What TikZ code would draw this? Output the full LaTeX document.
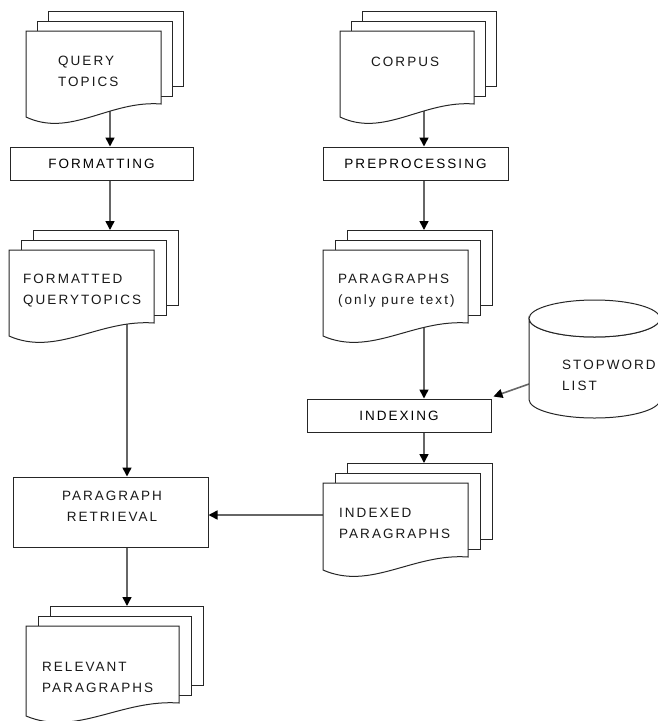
\documentclass[tikz,border=0pt]{standalone}
\usepackage{fontspec}
\newfontfamily\lblfont{Liberation Sans}[LetterSpace=15]
\usetikzlibrary{arrows.meta}
\pgfdeclarelayer{bg}
\pgfsetlayers{bg,main}
\tikzset{
  docline/.style={draw=black!85, line width=1pt, fill=white},
  procbox/.style={draw=black!85, line width=1pt, fill=white, inner sep=0pt,
    font=\lblfont\fontsize{13.5}{21}\selectfont},
  lbl/.style={font=\lblfont\fontsize{13.5}{21}\selectfont, align=left, inner sep=0pt, text=black!90},
  arr/.style={draw=black!60, line width=1.6pt,
    -{Triangle[length=9pt,width=9pt,color=black]}}
}
% #1 name, #2 x1, #3 y1, #4 x2, #5 yr, #6 dx
\newcommand{\mdoc}[6]{%
  \draw[docline] ({#2+2*#6},{#3-20}) rectangle ({#4+2*#6},{#5-18});
  \draw[docline] ({#2+#6},{#3-10}) rectangle ({#4+#6},{#5-8});
  \draw[docline] (#2,#3) -- (#4,#3) -- (#4,#5)
     .. controls ({#2+0.62*(#4-#2)},{#5-4}) and ({#2+0.33*(#4-#2)},{#5+34}) .. (#2,{#5+13}) -- cycle;
  \coordinate (#1-top) at ({#2+2*#6},{#3-20});
}
\begin{document}
\begin{tikzpicture}[x=1pt,y=-1pt]
\useasboundingbox (0,0) rectangle (658,721);
\begin{scope}
\clip (0,0) rectangle (658,721);

% multi-document shapes
\mdoc{qt}{26}{31}{161}{104}{11}
\mdoc{corp}{340}{31}{474}{104}{11}
\mdoc{fqt}{9}{250}{154}{323}{12}
\mdoc{par}{323}{250}{468}{323}{12}
\mdoc{ixp}{323}{483}{468}{557}{12}
\mdoc{rel}{26}{626}{179}{703}{12}

% stopword list cylinder
\draw[docline] (529,318.5) -- (529,399.5)
  arc[start angle=180, end angle=0, x radius=65.5, y radius=18.5]
  -- (660,318.5)
  arc[start angle=0, end angle=180, x radius=65.5, y radius=18.5] -- cycle;
\draw[docline] (594.5,318.5) ellipse [x radius=65.5, y radius=18.5];
\coordinate (stopw) at (529,384);

% process boxes
\node[procbox, minimum width=183pt, minimum height=33pt] (fmt) at (101.5,163.5) {FORMATTING};
\node[procbox, minimum width=185pt, minimum height=33pt] (pre) at (415.5,163.5) {PREPROCESSING};
\node[procbox, minimum width=184pt, minimum height=33pt] (idx) at (399,415.5) {INDEXING};
\node[procbox, minimum width=195pt, minimum height=70pt] (ret) at (110.5,512) {};
\node[lbl, align=center] (rett) at (112,506) {PARAGRAPH\\RETRIEVAL};

% labels
\node[lbl, anchor=west] (qtt) at (58,71.5) {QUERY\\TOPICS};
\node[lbl, anchor=west] (corpt) at (371,62) {CORPUS};
\node[lbl, anchor=west] (fqtt) at (23,290.5) {FORMATTED\\QUERYTOPICS};
\node[lbl, anchor=west] (part) at (338,291) {PARAGRAPHS\\(only pure text)};
\node[lbl, anchor=west] (ixpt) at (339,523.5) {INDEXED\\PARAGRAPHS};
\node[lbl, anchor=west] (relt) at (42,677) {RELEVANT\\PARAGRAPHS};
\node[lbl, anchor=west] (stopt) at (562,375) {STOPWORD\\LIST};

% connector anchor points
\coordinate (qtout) at (110,104);
\coordinate (fqtout) at (127,323);
\coordinate (corpout) at (424,104);
\coordinate (parout) at (424,323);
\coordinate (ixpw) at (323,515);
\coordinate (idxin) at ([shift={(2,-2)}]idx.north east);

\begin{pgfonlayer}{bg}
\draw[arr] (qtout) -- (qtout |- fmt.north);
\draw[arr] (fmt.south -| qtout) -- (qtout |- fqt-top);
\draw[arr] (fqtout) -- (fqtout |- ret.north);
\draw[arr] (ret.south -| fqtout) -- (fqtout |- rel-top);
\draw[arr] (corpout) -- (corpout |- pre.north);
\draw[arr] (pre.south -| corpout) -- (corpout |- par-top);
\draw[arr] (parout) -- (parout |- idx.north);
\draw[arr] (idx.south -| corpout) -- (corpout |- ixp-top);
\draw[arr] (ixpw) -- (ixpw -| ret.east);
\draw[arr] (stopw) -- (idxin);
\end{pgfonlayer}
\end{scope}
\end{tikzpicture}
\end{document}
